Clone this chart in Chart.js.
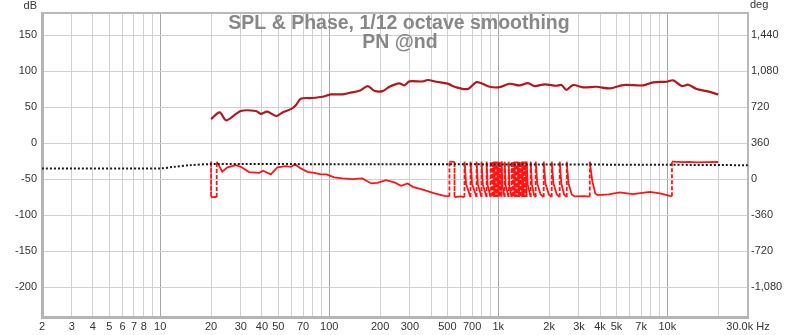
<!DOCTYPE html>
<html>
<head>
<meta charset="utf-8">
<script src="https://cdn.jsdelivr.net/npm/chart.js@4.4.1/dist/chart.umd.min.js"></script>
<style>
  html, body { margin: 0; padding: 0; background: #fff; }
</style>
</head>
<body>
<canvas id="splChart" width="800" height="335"></canvas>
<script>

const titleLines = ['SPL & Phase, 1/12 octave smoothing', 'PN @nd'];

// [Hz, dB]
const splPts = [
  [20, 33.7], [22.5, 43], [24.6, 32], [30, 45], [36.8, 45], [39.4, 41], [43, 44], [48.7, 38],
  [52.9, 43], [59.3, 47.6], [63.5, 53], [67.9, 62], [79.6, 63], [91.2, 64.7], [102, 68], [120, 68],
  [131, 70], [151, 73], [169, 79.6], [185, 73], [207, 72.6], [227, 78.6], [260, 83.3], [278, 80.5],
  [298, 86], [357, 86], [382, 88], [429, 85.6], [502, 83], [551, 78.6], [660, 75.4], [747, 85],
  [888, 78.6], [1018, 78], [1167, 82.8], [1337, 80.5], [1498, 83.7], [1641, 79.6], [1882, 82],
  [2207, 80], [2363, 81], [2530, 74.4], [2768, 81], [3174, 77.8], [3811, 78.6], [4567, 76.4],
  [5477, 81], [7197, 80.5], [8245, 84.7], [9906, 85.6], [10834, 87.5], [12152, 79.6], [13300, 81.4],
  [14920, 75.4], [17100, 72.6], [20000, 68]
];

// [Hz, deg] wrapped phase, a jump of ~360 is a wrap
const phasePts = [
  [20, 178], [20, -178], [21.6, -176], [21.6, 178], [23.3, 77], [25, 120], [28, 143], [30, 126],
  [33.6, 73], [38.5, 66], [40.6, 86], [45.1, 50], [49.4, 120], [55.4, 133], [59.3, 126], [62.9, 150],
  [67.9, 110], [74.3, 76], [81.5, 66], [89.3, 50], [96.4, 50], [107, 20], [120, 10], [137, 3],
  [157, 10], [177, -40], [193, -34], [217, -7], [243, -30], [266, -64], [291, -40], [312, -74],
  [366, -107], [419, -140], [480, -165], [514, -170],
  [514, 178], [551, 176], [551, -178], [600, -170], [631, -177],
  [631, 178], [645, -50], [685, -176],
  [685, 178], [700, -50], [744, -176],
  [744, 178], [757, -50], [796, -176],
  [796, 178], [810, -50], [853, -176],
  [853, 178], [865, -60], [900, -176],
  [900, 178], [925, -176],
  [925, 178], [945, -176],
  [945, 178], [964, -176],
  [964, 178], [984, -176],
  [984, 178], [1004, -176],
  [1004, 178], [1025, -176],
  [1025, 178], [1046, -176],
  [1046, 178], [1057, -60], [1090, -176],
  [1090, 178], [1105, -60], [1151, -176],
  [1151, 178], [1163, -60], [1199, -176],
  [1199, 178], [1224, -176],
  [1224, 178], [1249, -176],
  [1249, 178], [1275, -176],
  [1275, 178], [1301, -176],
  [1301, 178], [1328, -176],
  [1328, 178], [1356, -176],
  [1356, 178], [1384, -176],
  [1384, 178], [1413, -176],
  [1413, 178], [1442, -176],
  [1442, 178], [1472, -176],
  [1472, 178], [1492, -50], [1555, -176],
  [1555, 178], [1580, -50], [1630, -160], [1664, -176],
  [1664, 178], [1700, -40], [1780, -150], [1856, -176],
  [1856, 178], [1900, -40], [1990, -150], [2070, -176],
  [2070, 178], [2120, -40], [2220, -150], [2309, -176],
  [2309, 178], [2360, -40], [2450, -150], [2541, -176],
  [2541, 178], [2600, -40], [2720, -150], [2835, -170], [3200, -168], [3477, -172],
  [3477, 178], [3600, -20], [3750, -140], [3878, -157], [4500, -150], [5236, -130], [6252, -147],
  [7888, -124], [9036, -140], [10360, -164], [10650, -168],
  [10650, 178], [11500, 175], [12500, 172], [13500, 176], [15000, 170], [17000, 172], [20000, 174]
];

// dotted reference trace [Hz, deg]
const refPts = [
  [2, 110], [10, 110], [12, 125], [15, 142], [20, 153], [100, 152], [1000, 150], [10000, 146], [30000, 142]
];

const xGridTicks = [
  2, 3, 4, 5, 6, 7, 8, 9, 10, 20, 30, 40, 50, 60, 70, 80, 90,
  100, 200, 300, 400, 500, 600, 700, 800, 900,
  1000, 2000, 3000, 4000, 5000, 6000, 7000, 8000, 9000, 10000, 20000, 30000
];
const xLabelled = [2, 3, 4, 5, 6, 7, 8, 10, 20, 30, 40, 50, 70, 100, 200, 300, 500, 700,
  1000, 2000, 3000, 4000, 5000, 7000, 10000, 30000];
const xDecades = [10, 100, 1000, 10000];
const dbTicks = [-200, -150, -100, -50, 0, 50, 100, 150];
const degTicks = [-1080, -720, -360, 0, 360, 720, 1080, 1440];

const dbMin = -241, dbMax = 181;
// right axis: deg = (dB + 50) * 7.2
const degMin = (dbMin + 50) * 7.2, degMax = (dbMax + 50) * 7.2;

const tickFont = { family: '"Liberation Sans", Arial, sans-serif', size: 11 };

function xLabel(v) {
    if (!xLabelled.includes(v)) return '';
    if (v === 30000) return '30.0k Hz';
    return v >= 1000 ? (v / 1000) + 'k' : String(v);
}

const overlayPlugin = {
    id: 'overlay',
    afterDraw(chart) {
        const { ctx, chartArea: a } = chart;
        ctx.save();
        ctx.strokeStyle = '#b8b8b8';
        ctx.lineWidth = 2;
        ctx.beginPath();
        ctx.moveTo(a.left, a.top);
        ctx.lineTo(a.right, a.top);
        ctx.stroke();

        ctx.fillStyle = '#878787';
        ctx.font = 'bold 19.5px "Liberation Sans", Arial, sans-serif';
        ctx.textAlign = 'center';
        ctx.fillText(titleLines[0], 399, 29);
        ctx.fillText(titleLines[1], 400, 48);

        ctx.fillStyle = '#333';
        ctx.font = '11px "Liberation Sans", Arial, sans-serif';
        ctx.textAlign = 'right';
        ctx.fillText('dB', 37, 9);
        ctx.textAlign = 'left';
        ctx.fillText('deg', 750, 8);
        ctx.restore();
    }
};

new Chart(document.getElementById('splChart'), {
    type: 'line',
    data: {
        datasets: [
            {
                label: 'ref',
                data: refPts.map(p => ({ x: p[0], y: p[1] })),
                yAxisID: 'y1',
                borderColor: '#1a1a1a',
                borderWidth: 2,
                borderDash: [2, 2],
                pointRadius: 0,
                tension: 0.3
            },
            {
                label: 'SPL',
                data: splPts.map(p => ({ x: p[0], y: p[1] })),
                yAxisID: 'y',
                borderColor: '#b3161b',
                borderWidth: 2.2,
                pointRadius: 0,
                tension: 0.3
            },
            {
                label: 'Phase',
                data: phasePts.map(p => ({ x: p[0], y: p[1] })),
                yAxisID: 'y1',
                borderColor: '#ff1414',
                borderWidth: 1.8,
                pointRadius: 0,
                tension: 0,
                segment: {
                    borderDash: c => Math.abs(c.p1.parsed.y - c.p0.parsed.y) > 250 ? [4, 2] : undefined
                }
            }
        ]
    },
    options: {
        responsive: false,
        animation: false,
        layout: { padding: { top: 13, left: 0, right: 0, bottom: 0 } },
        plugins: {
            legend: { display: false },
            tooltip: { enabled: false }
        },
        scales: {
            x: {
                type: 'logarithmic',
                min: 2,
                max: 30000,
                afterBuildTicks: s => { s.ticks = xGridTicks.map(v => ({ value: v })); },
                afterFit: s => { s.height = 18; },
                grid: {
                    color: c => xDecades.includes(c.tick && c.tick.value) ? '#a5a5a5' : '#d0d0d0',
                    drawTicks: false
                },
                border: { color: '#b4b4b4', width: 3 },
                ticks: {
                    autoSkip: false,
                    maxRotation: 0,
                    padding: 3,
                    color: '#333',
                    font: tickFont,
                    callback: v => xLabel(v)
                }
            },
            y: {
                position: 'left',
                min: dbMin,
                max: dbMax,
                afterBuildTicks: s => { s.ticks = dbTicks.map(v => ({ value: v })); },
                afterFit: s => { s.width = 42; },
                grid: { color: '#d0d0d0', drawTicks: false },
                border: { color: '#b4b4b4', width: 3 },
                ticks: { padding: 5, color: '#333', font: tickFont }
            },
            y1: {
                position: 'right',
                min: degMin,
                max: degMax,
                afterBuildTicks: s => { s.ticks = degTicks.map(v => ({ value: v })); },
                afterFit: s => { s.width = 52; },
                grid: { display: false, drawTicks: false },
                border: { color: '#b8b8b8', width: 2 },
                ticks: {
                    padding: 3,
                    color: '#333',
                    font: tickFont,
                    callback: v => v.toLocaleString('en-US')
                }
            }
        }
    },
    plugins: [overlayPlugin]
});
</script>
</body>
</html>
